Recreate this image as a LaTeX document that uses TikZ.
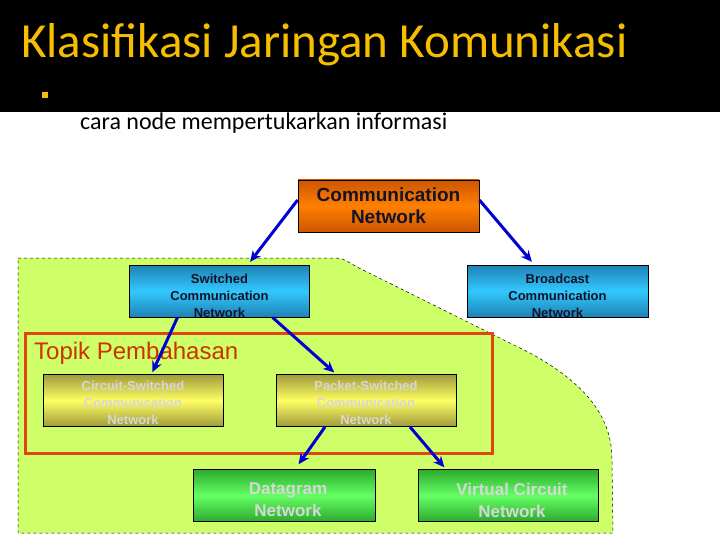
\documentclass[tikz,border=0pt]{standalone}
\usepackage{fontspec}
\setmainfont{Liberation Sans}
\newfontfamily\titlefont{Carlito}
\usetikzlibrary{arrows.meta}
\definecolor{titleyellow}{RGB}{245,190,0}
\definecolor{regiongreen}{RGB}{206,255,104}
\definecolor{topikred}{RGB}{226,70,16}
\definecolor{topiktext}{RGB}{204,51,0}
\definecolor{arrowblue}{RGB}{0,0,210}
\definecolor{orA}{RGB}{205,85,0}
\definecolor{orB}{RGB}{255,128,0}
\definecolor{blA}{RGB}{30,130,180}
\definecolor{blB}{RGB}{50,200,255}
\definecolor{yeA}{RGB}{160,155,60}
\definecolor{yeB}{RGB}{255,255,100}
\definecolor{grA}{RGB}{45,170,45}
\definecolor{grB}{RGB}{100,255,100}
\definecolor{boxtext}{RGB}{20,20,40}
\definecolor{paletext}{RGB}{215,215,215}
\tikzset{
  box/.style={draw=black, line width=0.8pt, minimum width=180pt, minimum height=52pt, inner sep=0pt},
  orangebox/.style={box, top color=orA, bottom color=orA, middle color=orB, minimum width=181pt},
  bluebox/.style={box, top color=blA, bottom color=blA, middle color=blB},
  yellowbox/.style={box, top color=yeA, bottom color=yeA, middle color=yeB},
  greenbox/.style={box, top color=grA, bottom color=grA, middle color=grB, minimum width=182pt},
  smalltxt/.style={align=center, font=\fontsize{13}{17}\selectfont\bfseries, inner sep=0pt},
  bigtxt/.style={align=center, font=\fontsize{19}{22}\selectfont\bfseries, inner sep=0pt},
  conn/.style={draw=arrowblue, line width=3pt, -{Stealth[length=11pt,width=10pt]}, shorten >=1pt}
}
\begin{document}
\begin{tikzpicture}[x=1pt,y=-1pt]
\useasboundingbox (0,0) rectangle (720,540);
% header
\fill[black] (0,0) rectangle (720,112);
\node[anchor=base west, inner sep=0pt, text=titleyellow, font=\titlefont\fontsize{49}{49}\selectfont] (title) at (21,58) {Klasifikasi Jaringan Komunikasi};
\fill[titleyellow] (42,92) rectangle (48,98);
\node[anchor=base west, inner sep=0pt, font=\titlefont\fontsize{24}{24}\selectfont] (sub) at (80,130) {cara node mempertukarkan informasi};
% green region
\draw[dashed, fill=regiongreen, line width=0.5pt] (18,258) -- (330,258) .. controls (342,258) .. (357,267) -- (530,353) .. controls (590,386) and (612,420) .. (612,460) -- (613,533) -- (18,533) -- cycle;
% boxes
\node[orangebox, minimum height=52pt] (comm) at (388.5,206) {};
\node[bigtxt, text=boxtext] (commt) at (388.5,206) {Communication\\Network};
\node[bluebox, path picture={\node[smalltxt, text=boxtext] at ([yshift=-5pt]path picture bounding box.center) {Switched\\Communication\\Network};}] (sw) at (219.5,291) {};
\node[bluebox, minimum width=181pt, path picture={\node[smalltxt, text=boxtext] at ([yshift=-5pt]path picture bounding box.center) {Broadcast\\Communication\\Network};}] (bc) at (557.5,291) {};
% topik
\draw[topikred, line width=3pt] (25,333) rectangle (492,453);
\node[anchor=base west, inner sep=0pt, text=topiktext, font=\fontsize{24}{24}\selectfont] (topik) at (34,359) {Topik Pembahasan};
\node[yellowbox] (cs) at (133,400.5) {};
\node[smalltxt, text=paletext] (cst) at (133,403) {Circuit-Switched\\Communication\\Network};
\node[yellowbox] (ps) at (366,400.5) {};
\node[smalltxt, text=paletext] (pst) at (366,403) {Packet-Switched\\Communication\\Network};
\node[greenbox] (dg) at (284,495.5) {};
\node[bigtxt, text=paletext, font=\fontsize{17}{22}\selectfont\bfseries] (dgt) at (288,500) {Datagram\\Network};
\node[greenbox, minimum width=180pt] (vc) at (508,495.5) {};
\node[bigtxt, text=paletext, font=\fontsize{17}{22}\selectfont\bfseries] (vct) at (512,500) {Virtual Circuit\\Network};
% connectors
\draw[conn] ([yshift=6pt]comm.west) -- ([xshift=30pt,yshift=2pt]sw.north);
\draw[conn] ([yshift=6pt]comm.east) -- ([xshift=-25pt,yshift=2pt]bc.north);
\draw[conn] ([xshift=-42pt]sw.south) -- ([xshift=19pt,yshift=1pt]cs.north);
\draw[conn] ([xshift=53pt]sw.south) -- ([xshift=-31pt,yshift=1pt]ps.north);
\draw[conn] ([xshift=-41pt]ps.south) -- ([xshift=14pt,yshift=4pt]dg.north);
\draw[conn] ([xshift=44pt]ps.south) -- ([xshift=-63pt,yshift=1pt]vc.north);
\end{tikzpicture}
\end{document}
